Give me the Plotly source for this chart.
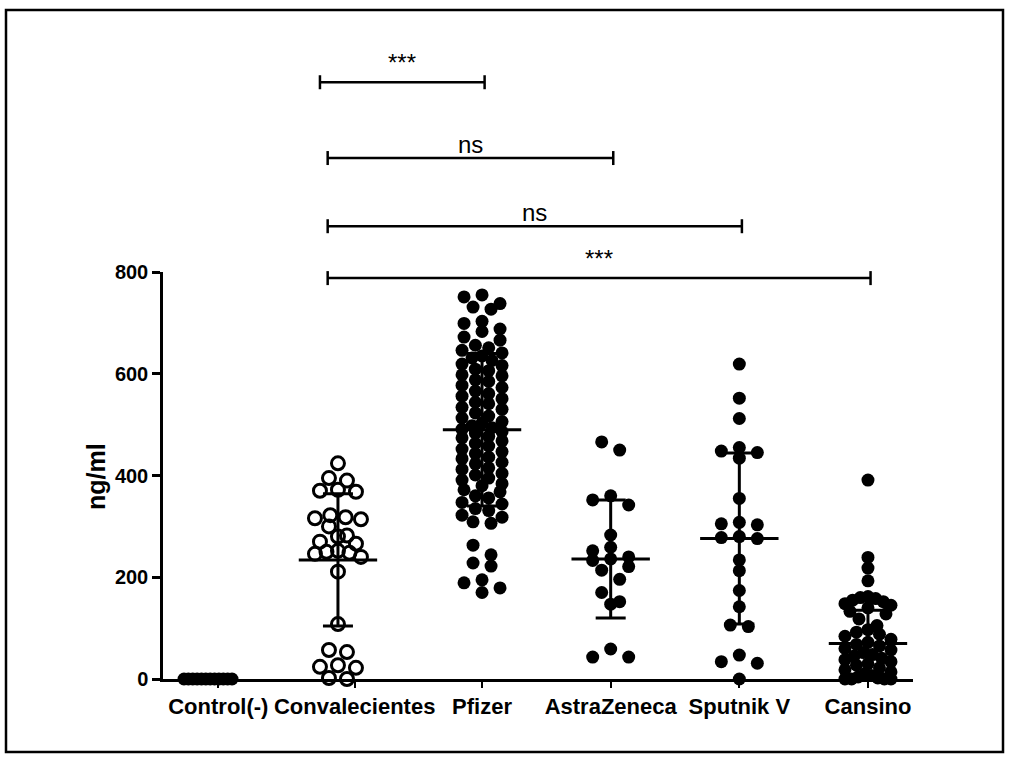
import plotly.graph_objects as go

# ---------------- data ----------------
categories = ["Control(-)", "Convalecientes", "Pfizer", "AstraZeneca", "Sputnik V", "Cansino"]

control = [0, 0, 0, 0, 0, 0, 0, 0, 0, 0, 0, 0]
convalecientes = [424, 395, 390, 372, 370, 368, 322, 318, 316, 314, 300, 282, 280, 270, 266,
                  252, 250, 248, 246, 240, 211, 108, 57, 53, 27, 24, 22, 2, 0]
pfizer = [755, 751, 738, 731, 727, 703, 699, 688, 683, 672, 666, 656, 651, 646, 641, 635,
          631, 626, 619, 616, 609, 606, 598, 596, 588, 585, 577, 573, 566, 561, 556, 551,
          544, 541, 534, 530, 523, 517, 513, 506, 503, 498, 494, 491, 486, 483, 477, 474, 468,
          463, 458, 452, 447, 443, 436, 433, 426, 423, 415, 412, 404, 401, 395, 391, 384, 380,
          372, 368, 360, 356, 347, 344, 335, 331, 322, 318, 309, 306, 263, 244, 228, 222, 195,
          189, 179, 170]
astrazeneca = [466, 450, 360, 352, 342, 283, 259, 252, 240, 236, 233, 221, 214, 196, 170, 152,
               147, 59, 43, 43]
sputnik = [619, 552, 512, 455, 448, 445, 434, 355, 308, 305, 303, 280, 278, 276, 234, 213, 174,
           142, 106, 103, 47, 34, 31, 0]
cansino = [391, 239, 218, 193, 162, 160, 158, 155, 152, 148, 145, 140, 133, 128, 118, 105, 97,
           92, 88, 84, 78, 72, 68, 65, 60, 57, 52, 48, 45, 41, 38, 34, 30, 27, 22, 18, 14, 10,
           7, 4, 2, 0, 0, 0, 0]

means = [0, 234, 490, 236, 276, 70]
sds = [0, 130, 150, 116, 168, 65]

y_ticks = [0, 200, 400, 600, 800]

# comparisons: (group a, group b, label)
comparisons = [(1, 2, "***"), (1, 3, "ns"), (1, 4, "ns"), (1, 5, "***")]
bracket_levels = [1173, 1024, 890, 788]

groups = [control, convalecientes, pfizer, astrazeneca, sputnik, cansino]

# ---------------- layout geometry ----------------
W, H = 1014, 762
L, R, T, B = 163, 101, 40, 83
X_RANGE = [-0.48, 5.35]
plot_w = W - L - R
plot_h = H - T - B
xpx = plot_w / (X_RANGE[1] - X_RANGE[0])     # px per x unit
y_top_px = 407                                 # px from 0 to 800
ydom = y_top_px / plot_h
ypx = y_top_px / 800.0                         # px per y unit

# group centres (GraphPad draws the first two columns slightly left)
centers = [-0.13, 0.88, 2, 3, 4, 5]
label_pos = [-0.05, 1.01, 2, 3, 4, 5]
swarm_width = [48, 46, 40, 38, 42, 46]


def swarm(vals, center, maxw_px, row_px=10, step_px=18):
    v = sorted(vals, reverse=True)
    rows, cur = [], []
    for val in v:
        if cur and (cur[0] - val) * ypx > row_px:
            rows.append(cur)
            cur = []
        cur.append(val)
    if cur:
        rows.append(cur)
    xs, ys = [], []
    for r in rows:
        n = len(r)
        step = step_px if n < 2 else min(step_px, maxw_px / (n - 1))
        order = sorted(range(n), key=lambda i: abs(i - (n - 1) / 2))
        for k, val in zip(order, r):
            off = (k - (n - 1) / 2) * step
            xs.append(center + off / xpx)
            ys.append(val)
    return xs, ys


FONT = "Liberation Sans, Arial, Helvetica, sans-serif"
fig = go.Figure()

for gi, vals in enumerate(groups):
    xs, ys = swarm(vals, centers[gi], swarm_width[gi])
    if gi == 1:
        marker = dict(symbol="circle-open", size=13, color="black", line=dict(width=3, color="black"))
    else:
        marker = dict(symbol="circle", size=13, color="black", line=dict(width=0))
    fig.add_trace(go.Scatter(x=xs, y=ys, mode="markers", marker=marker,
                             cliponaxis=False, showlegend=False, hoverinfo="y"))

# mean +/- SD
for gi in range(1, len(groups)):
    fig.add_trace(go.Scatter(
        x=[centers[gi]], y=[means[gi]], mode="markers",
        marker=dict(symbol="line-ew-open", size=56, color="black", line=dict(width=3, color="black")),
        error_y=dict(type="data", array=[sds[gi]], color="black", thickness=3, width=15),
        cliponaxis=False, showlegend=False, hoverinfo="skip"))

shapes = []
annotations = []


def ypaper(v):
    return v / 800.0 * ydom


# significance brackets
for (a, b, lab), lev in zip(comparisons, bracket_levels):
    xa = centers[a] - (0.14 if b == 2 else 0.08)
    xb = centers[b] + 0.02
    yp = ypaper(lev)
    cap = 7 / plot_h
    shapes.append(dict(type="line", xref="x", yref="paper", x0=xa, x1=xb, y0=yp, y1=yp,
                       line=dict(color="black", width=2.5)))
    for xx in (xa, xb):
        shapes.append(dict(type="line", xref="x", yref="paper", x0=xx, x1=xx, y0=yp - cap, y1=yp + cap,
                           line=dict(color="black", width=2.5)))
    if lab == "ns":
        annotations.append(dict(x=(xa + xb) / 2, y=yp, xref="x", yref="paper", text=lab,
                                showarrow=False, yanchor="bottom", yshift=-2,
                                font=dict(family=FONT, size=24, color="black")))
    else:
        annotations.append(dict(x=(xa + xb) / 2, y=yp, xref="x", yref="paper", text=lab,
                                showarrow=False, yanchor="bottom", yshift=4,
                                font=dict(family=FONT, size=24, color="black")))

# outer frame
fx0 = (6 - L) / plot_w
fx1 = (1003 - L) / plot_w
fy1 = (H - B - 10) / plot_h
fy0 = (H - B - 752) / plot_h
shapes.append(dict(type="rect", xref="paper", yref="paper", x0=fx0, x1=fx1, y0=fy0, y1=fy1,
                   line=dict(color="black", width=2.5), fillcolor="rgba(0,0,0,0)"))

# y title
annotations.append(dict(x=(96 - L) / plot_w, y=(H - B - 477) / plot_h, xref="paper", yref="paper",
                        xanchor="center", yanchor="middle",
                        text="ng/ml", textangle=-90, showarrow=False,
                        font=dict(family=FONT, size=25, color="black", weight="bold")))

fig.update_layout(
    width=W, height=H,
    margin=dict(l=L, r=R, t=T, b=B),
    paper_bgcolor="white", plot_bgcolor="white",
    shapes=shapes, annotations=annotations,
    showlegend=False,
    font=dict(family=FONT, color="black"),
    xaxis=dict(range=X_RANGE, tickvals=label_pos, ticktext=categories,
               showline=True, linecolor="black", linewidth=2.5, ticks="outside", ticklen=6,
               tickwidth=2, tickcolor="black", showgrid=False, zeroline=False,
               tickfont=dict(family=FONT, size=22, color="black", weight="bold")),
    yaxis=dict(range=[0, 800], domain=[0, ydom], tickvals=y_ticks,
               showline=True, linecolor="black", linewidth=2.5, ticks="outside", ticklen=8,
               tickwidth=2.5, tickcolor="black", showgrid=False, zeroline=False,
               tickfont=dict(family=FONT, size=20, color="black", weight="bold")),
)

fig.write_html("out.html")
